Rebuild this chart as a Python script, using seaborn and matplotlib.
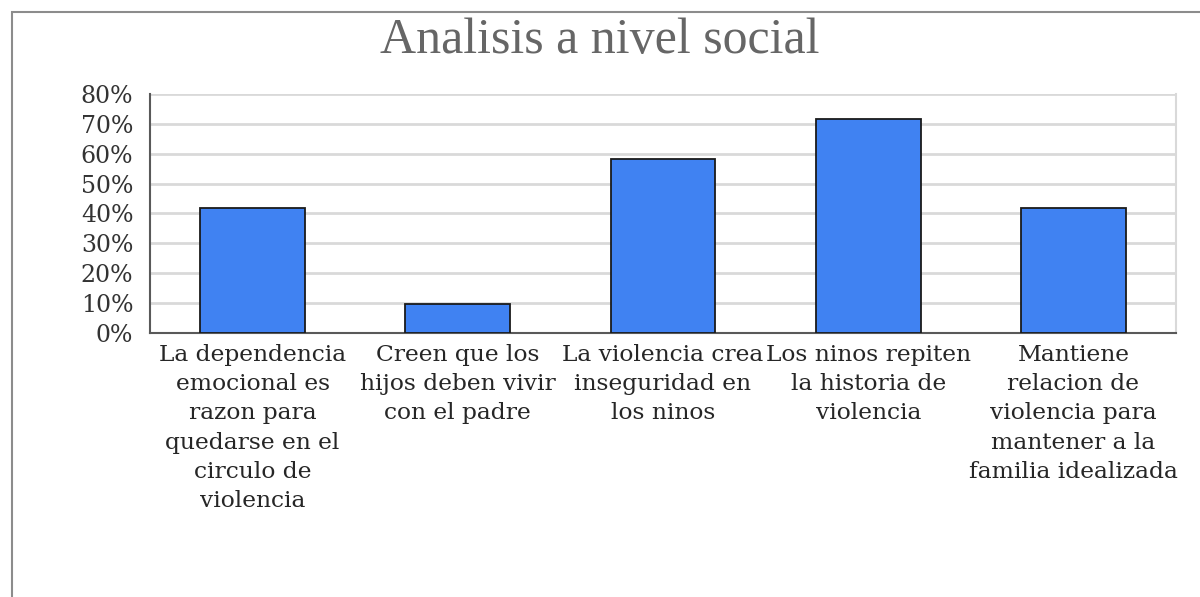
import matplotlib
matplotlib.use('Agg')
import matplotlib.pyplot as plt
import seaborn as sns
import pandas as pd
from matplotlib.patches import Rectangle
from matplotlib.ticker import PercentFormatter

# datos
categorias = [
    'La dependencia\nemocional es\nrazon para\nquedarse en el\ncirculo de\nviolencia',
    'Creen que los\nhijos deben vivir\ncon el padre',
    'La violencia crea\ninseguridad en\nlos ninos',
    'Los ninos repiten\nla historia de\nviolencia',
    'Mantiene\nrelacion de\nviolencia para\nmantener a la\nfamilia idealizada',
]
valores = [0.417, 0.098, 0.584, 0.716, 0.417]

df = pd.DataFrame({'Categoria': categorias, 'Valor': valores})

sns.set_style('white')
plt.rcParams['font.family'] = ['DejaVu Serif']

fig = plt.figure(figsize=(12, 5.97), dpi=100)
ax = fig.add_axes([150 / 1200, 1 - 333 / 597, 1026 / 1200, 239 / 597])

sns.barplot(data=df, x='Categoria', y='Valor', color='#4082F2', saturation=1,
            edgecolor='#1a1a1a', linewidth=1.3, width=0.51, ax=ax, zorder=3)

ax.set_ylim(0, 0.8)
ax.set_yticks([i / 10 for i in range(9)])
ax.yaxis.set_major_formatter(PercentFormatter(1.0, decimals=0))
ax.grid(axis='y', color='#d9d9d9', linewidth=2, zorder=0)
ax.set_xlabel('')
ax.set_ylabel('')

for s in ['left', 'bottom']:
    ax.spines[s].set_color('#595959')
    ax.spines[s].set_linewidth(1.5)
ax.spines['right'].set_color('#d9d9d9')
ax.spines['right'].set_linewidth(1.5)
ax.spines['top'].set_visible(False)

ax.tick_params(axis='y', length=0, pad=12, labelsize=17, labelcolor='#333333')
ax.tick_params(axis='x', length=0, pad=8, labelsize=16.8, labelcolor='#262626')
for lbl in ax.get_xticklabels():
    lbl.set_verticalalignment('top')
    lbl.set_multialignment('center')
    lbl.set_linespacing(1.42)

fig.text(0.5, 1 - 41 / 597, 'Analisis a nivel social', ha='center', va='center',
         fontsize=36, color='#666666', family='Liberation Serif')

# borde del gráfico
fig.patches.append(Rectangle((12 / 1200, -0.2), 1.2, 1 - 12 / 597 + 0.2,
                             transform=fig.transFigure, fill=False,
                             edgecolor='#8c8c8c', linewidth=1.5))

fig.savefig('out.png', dpi=100)
